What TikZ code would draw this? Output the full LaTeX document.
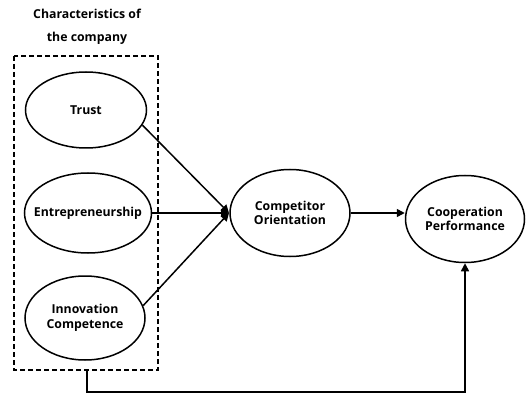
\documentclass[tikz,border=0pt]{standalone}
\usepackage{fontspec}
\setmainfont{Open Sans}
\usetikzlibrary{shapes.geometric,arrows.meta}
\begin{document}
\begin{tikzpicture}[x=1pt,y=-1pt,
  latent/.style={draw,ellipse,line width=1.5pt,minimum width=#1,align=center,
    font=\bfseries\fontsize{12.3}{14.5}\selectfont,inner sep=0pt},
  latent/.default=120pt,
  link/.style={line width=1.5pt,-{Triangle[length=8pt,width=8pt]}},
  label/.style={font=\bfseries\fontsize{12.3}{23}\selectfont,align=center}]
\useasboundingbox (0,0) rectangle (526,395);
% group of company characteristics
\node[label] (title) at (87,27) {Characteristics of\\the company};
\draw[dashed,line width=1.5pt,dash pattern=on 5pt off 3pt] (14,56) rectangle (158,370);
\coordinate (boxbot) at (87,370);
% latent constructs
\node[latent=121pt,minimum height=76pt] (trust) at (86,110) {Trust};
\node[latent=127pt,minimum height=80pt,inner xsep=-14pt] (entre) at (88,213) {Entrepreneurship};
\node[latent=120pt,minimum height=84pt] (innov) at (85,318) {Innovation\\Competence};
\node[latent=120pt,minimum height=87pt] (comp) at (290,213) {Competitor\\Orientation};
\node[latent=119pt,minimum height=87pt] (coop) at (465,219) {Cooperation\\Performance};
% paths
\coordinate (hub) at (229,213);
\draw[link] (trust.-15) -- (hub);
\draw[link] (entre.east) -- (hub);
\draw[link] (innov.12) -- (hub);
\draw[link] (comp.east) -- (coop.west |- comp.east);
\draw[link] (boxbot) -- (87,392) -| (coop.south);
\end{tikzpicture}
\end{document}
